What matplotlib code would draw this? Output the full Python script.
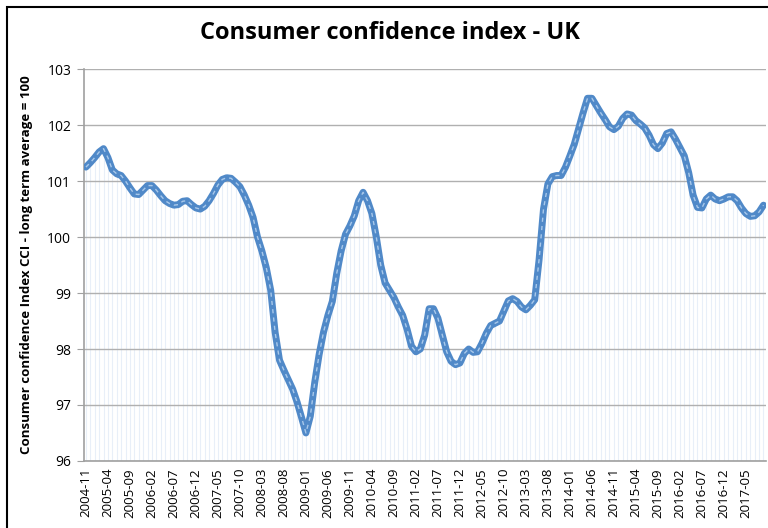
import matplotlib.pyplot as plt
import numpy as np
import pandas as pd
from matplotlib.patches import Rectangle

plt.rcParams['font.family'] = ['Open Sans', 'DejaVu Sans']

# monthly CCI, 2004-11 .. 2017-09
months = pd.date_range('2004-11-01', periods=155, freq='MS').strftime('%Y-%m')
cci = [
    101.25, 101.33, 101.42, 101.52, 101.58, 101.42, 101.20, 101.13, 101.10, 101.00,
    100.88, 100.77, 100.76, 100.84, 100.92, 100.92, 100.84, 100.74, 100.65, 100.60,
    100.57, 100.58, 100.64, 100.65, 100.58, 100.52, 100.50, 100.55, 100.65, 100.78,
    100.93, 101.03, 101.06, 101.05, 100.98, 100.90, 100.75, 100.57, 100.35, 100.00,
    99.75, 99.45, 99.05, 98.30, 97.80, 97.62, 97.45, 97.28, 97.05, 96.78,
    96.50, 96.80, 97.40, 97.90, 98.30, 98.60, 98.85, 99.35, 99.75, 100.05,
    100.20, 100.38, 100.65, 100.80, 100.65, 100.42, 100.00, 99.50, 99.18, 99.05,
    98.92, 98.75, 98.60, 98.35, 98.05, 97.95, 98.00, 98.25, 98.72, 98.72,
    98.55, 98.25, 97.95, 97.78, 97.72, 97.75, 97.92, 98.00, 97.94, 97.95,
    98.10, 98.28, 98.42, 98.46, 98.50, 98.68, 98.86, 98.90, 98.85, 98.75,
    98.70, 98.78, 98.88, 99.60, 100.50, 100.95, 101.08, 101.10, 101.10, 101.25,
    101.45, 101.66, 101.94, 102.22, 102.48, 102.48, 102.35, 102.22, 102.10, 101.97,
    101.92, 101.98, 102.12, 102.20, 102.18, 102.08, 102.02, 101.95, 101.82, 101.65,
    101.58, 101.68, 101.85, 101.88, 101.75, 101.60, 101.45, 101.15, 100.75, 100.53,
    100.52, 100.68, 100.75, 100.68, 100.65, 100.68, 100.72, 100.72, 100.65, 100.52,
    100.42, 100.37, 100.38, 100.45, 100.57,
]
yticks = [96, 97, 98, 99, 100, 101, 102, 103]

fig = plt.figure(figsize=(7.68, 5.28), dpi=100)
ax = fig.add_axes([0.109, 0.127, 0.888, 0.742])

x = np.arange(len(cci))
# faint drop lines under the series (below gridlines)
ax.vlines(x, 96, cci, color='#e8eff8', lw=0.8, zorder=0.2)
ax.plot(x, cci, color='#5089c8', lw=5, solid_capstyle='round', solid_joinstyle='round', zorder=3)
ax.plot(x, cci, color='#a8c8ea', lw=1, ls=(0, (3, 3)), zorder=4)

ax.set_xlim(-0.5, len(cci) - 0.5)
ax.set_ylim(96, 103)
ax.set_yticks(yticks)
ax.set_axisbelow(True)
ax.grid(axis='y', color='#b0b0b0', lw=1)

ax.set_xticks(x[::5])
ax.set_xticklabels(months[::5], rotation=90, fontsize=9.5)
ax.tick_params(axis='x', length=0, pad=5)
ax.tick_params(axis='y', length=5, color='#a0a0a0', labelsize=10, pad=4)

for s in ['top', 'right']:
    ax.spines[s].set_visible(False)
for s in ['left', 'bottom']:
    ax.spines[s].set_color('#a0a0a0')
    ax.spines[s].set_linewidth(1.2)

ax.set_ylabel('Consumer confidence Index CCI - long term average = 100',
              fontsize=9.5, fontweight='bold', labelpad=10)
fig.text(0.508, 0.937, 'Consumer confidence index - UK', ha='center', va='center',
         fontsize=17, fontweight='bold')

# chart frame (cropped on right and bottom)
fig.patches.append(Rectangle((0.009, -0.1), 1.2, 0.1 + 0.987, transform=fig.transFigure,
                             fill=False, edgecolor='black', lw=1.5))

fig.savefig('out.png', dpi=100)
